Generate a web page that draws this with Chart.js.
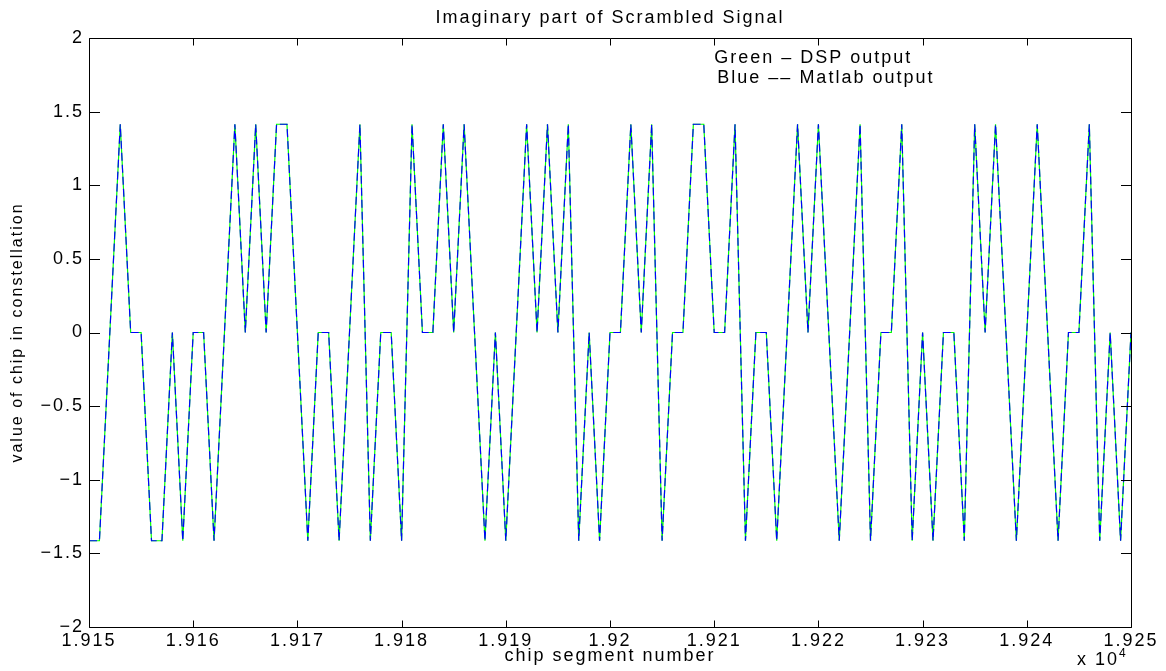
<!DOCTYPE html>
<html><head><meta charset="utf-8">
<script src="https://cdn.jsdelivr.net/npm/chart.js@4/dist/chart.umd.min.js"></script>
<style>html,body{margin:0;padding:0;background:#fff}canvas{display:block}</style>
</head><body>
<canvas id="c" width="1166" height="671"></canvas>
<script>
const chipNumbers = [
  19150,19151,19152,19153,19154,19155,19156,19157,19158,19159,
  19160,19161,19162,19163,19164,19165,19166,19167,19168,19169,
  19170,19171,19172,19173,19174,19175,19176,19177,19178,19179,
  19180,19181,19182,19183,19184,19185,19186,19187,19188,19189,
  19190,19191,19192,19193,19194,19195,19196,19197,19198,19199,
  19200,19201,19202,19203,19204,19205,19206,19207,19208,19209,
  19210,19211,19212,19213,19214,19215,19216,19217,19218,19219,
  19220,19221,19222,19223,19224,19225,19226,19227,19228,19229,
  19230,19231,19232,19233,19234,19235,19236,19237,19238,19239,
  19240,19241,19242,19243,19244,19245,19246,19247,19248,19249,
  19250];
const dspOutput = [
  -1.4142,-1.4142,0,1.4142,0,0,-1.4142,-1.4142,0,-1.4142,
  0,0,-1.4142,0,1.4142,0,1.4142,0,1.4142,1.4142,
  0,-1.4142,0,0,-1.4142,0,1.4142,-1.4142,0,0,
  -1.4142,1.4142,0,0,1.4142,0,1.4142,0,-1.4142,0,
  -1.4142,0,1.4142,0,1.4142,0,1.4142,-1.4142,0,-1.4142,
  0,0,1.4142,0,1.4142,-1.4142,0,0,1.4142,1.4142,
  0,0,1.4142,-1.4142,0,0,-1.4142,0,1.4142,0,
  1.4142,0,-1.4142,0,1.4142,-1.4142,0,0,1.4142,-1.4142,
  0,-1.4142,0,0,-1.4142,1.4142,0,1.4142,0,-1.4142,
  0,1.4142,0,-1.4142,0,0,1.4142,-1.4142,0,-1.4142,
  0];
const matlabOutput = [
  -1.4142,-1.4142,0,1.4142,0,0,-1.4142,-1.4142,0,-1.4142,
  0,0,-1.4142,0,1.4142,0,1.4142,0,1.4142,1.4142,
  0,-1.4142,0,0,-1.4142,0,1.4142,-1.4142,0,0,
  -1.4142,1.4142,0,0,1.4142,0,1.4142,0,-1.4142,0,
  -1.4142,0,1.4142,0,1.4142,0,1.4142,-1.4142,0,-1.4142,
  0,0,1.4142,0,1.4142,-1.4142,0,0,1.4142,1.4142,
  0,0,1.4142,-1.4142,0,0,-1.4142,0,1.4142,0,
  1.4142,0,-1.4142,0,1.4142,-1.4142,0,0,1.4142,-1.4142,
  0,-1.4142,0,0,-1.4142,1.4142,0,1.4142,0,-1.4142,
  0,1.4142,0,-1.4142,0,0,1.4142,-1.4142,0,-1.4142,
  0];
const xTickLabels = ['1.915','1.916','1.917','1.918','1.919','1.92','1.921','1.922','1.923','1.924','1.925'];
const yTickLabels = ['\u22122','\u22121.5','\u22121','\u22120.5','0','0.5','1','1.5','2'];
const titleText = 'Imaginary part of Scrambled Signal';
const xAxisTitle = 'chip segment number';
const yAxisTitle = 'value of chip in constellation';
const noteLines = ['Green \u2013 DSP output', 'Blue \u2013\u2013 Matlab output'];
const exponentText = ['x 10', '4'];

const FONT = '"Liberation Sans", Arial, Helvetica, sans-serif';
const SPACING = '2px';
const baseFont = {family: FONT, size: 18, weight: 'normal'};
const yTitleFont = {family: FONT, size: 16, weight: 'normal'};

const spacingPlugin = {
  id: 'spacing',
  beforeUpdate(c) { c.ctx.letterSpacing = SPACING; },
  beforeDraw(c) { c.ctx.letterSpacing = SPACING; }
};

const boxPlugin = {
  id: 'box',
  afterDraw(chart, args, opts) {
    const {ctx, chartArea: a, scales: {x, y}} = chart;
    ctx.save();
    ctx.letterSpacing = SPACING;
    ctx.strokeStyle = '#000';
    ctx.lineWidth = 1;
    ctx.beginPath();
    const L = Math.round(a.left) + 0.5, R = Math.round(a.right) + 0.5;
    const T = Math.round(a.top) + 0.5, B = Math.round(a.bottom) + 0.5;
    ctx.rect(L, T, R - L, B - T);
    x.ticks.forEach(t => {
      const px = Math.round(x.getPixelForValue(t.value)) + 0.5;
      ctx.moveTo(px, B); ctx.lineTo(px, B - 7);
      ctx.moveTo(px, T); ctx.lineTo(px, T + 7);
    });
    y.ticks.forEach(t => {
      const py = Math.round(y.getPixelForValue(t.value)) + 0.5;
      ctx.moveTo(L, py); ctx.lineTo(L + 10.5, py);
      ctx.moveTo(R, py); ctx.lineTo(R - 10.5, py);
    });
    ctx.stroke();
    ctx.fillStyle = '#000';
    ctx.font = '18px ' + FONT;
    ctx.textAlign = 'left';
    ctx.textBaseline = 'alphabetic';
    opts.notes.forEach(n => {
      ctx.fillText(n.text, x.getPixelForValue(n.x), y.getPixelForValue(n.y));
    });
    ctx.fillText(exponentText[0], a.right - 54, a.bottom + 38);
    ctx.font = '12px ' + FONT;
    ctx.fillText(exponentText[1], a.right - 12, a.bottom + 30);
    ctx.restore();
  }
};

new Chart(document.getElementById('c'), {
  type: 'line',
  data: {
    datasets: [
      {
        label: 'Matlab output',
        data: chipNumbers.map((c, i) => ({x: c, y: matlabOutput[i]})),
        borderColor: '#0000ff',
        borderWidth: 1.2,
        borderDash: [8, 4],
        pointRadius: 0,
        tension: 0,
        fill: false
      },
      {
        label: 'DSP output',
        data: chipNumbers.map((c, i) => ({x: c, y: dspOutput[i]})),
        borderColor: '#00ff00',
        borderWidth: 1.2,
        pointRadius: 0,
        tension: 0,
        fill: false
      }
    ]
  },
  options: {
    responsive: false,
    animation: false,
    devicePixelRatio: 1,
    layout: {padding: {left: 0, right: 35, top: 0, bottom: 0}},
    scales: {
      x: {
        type: 'linear', min: 19150, max: 19250,
        afterFit(s) { s.height = 44; },
        grid: {display: false, drawTicks: false}, border: {display: false},
        ticks: {stepSize: 10, autoSkip: false, maxRotation: 0, padding: 3, color: '#000',
                font: baseFont, callback: (v, i) => xTickLabels[i]},
        title: {display: true, text: xAxisTitle, color: '#000', font: baseFont,
                padding: {top: 0, bottom: 4}}
      },
      y: {
        type: 'linear', min: -2, max: 2,
        afterFit(s) { s.width = 89; },
        grid: {display: false, drawTicks: false}, border: {display: false},
        ticks: {stepSize: 0.5, padding: 5, color: '#000', font: baseFont,
                callback: (v, i) => yTickLabels[i]},
        title: {display: true, text: yAxisTitle, color: '#000', font: yTitleFont,
                padding: {top: 8, bottom: 0}}
      }
    },
    plugins: {
      legend: {display: false},
      tooltip: {enabled: false},
      title: {display: true, fullSize: false, text: titleText, color: '#000', font: baseFont,
              padding: {top: 7, bottom: 9.4}},
      box: {notes: [
        {text: noteLines[0], x: 19210, y: 1.832},
        {text: noteLines[1], x: 19210.3, y: 1.696}
      ]}
    }
  },
  plugins: [spacingPlugin, boxPlugin]
});
</script>
</body></html>
